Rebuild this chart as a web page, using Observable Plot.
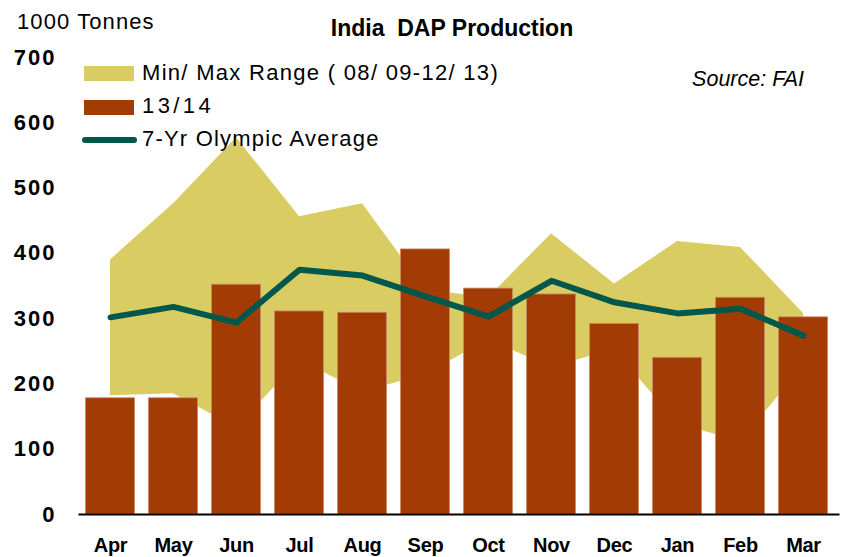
<!DOCTYPE html>
<html>
<head>
<meta charset="utf-8">
<script src="https://cdn.jsdelivr.net/npm/d3@7"></script>
<script src="https://cdn.jsdelivr.net/npm/@observablehq/plot@0.6"></script>
<style>
  html, body { margin: 0; padding: 0; background: #fff; }
  #wrap { position: relative; width: 844px; height: 557px; font-family: "Liberation Sans", Arial, sans-serif; color: #000; overflow: hidden; }
  .abs { position: absolute; white-space: pre; line-height: 1; }
  #unit { left: 17px; top: 10.5px; font-size: 22px; letter-spacing: 1.1px; }
  #title { left: 452px; top: 16.5px; transform: translateX(-50%); font-size: 23px; font-weight: bold; }
  #source { right: 40px; top: 68.8px; font-size: 21.5px; font-style: italic; }
  .lg { font-size: 22px; }
  .sw { position: absolute; }
  svg [aria-label="y-axis tick label"] text { letter-spacing: 2px; }
  svg [aria-label="x-axis tick label"] text { letter-spacing: -0.3px; }
</style>
</head>
<body>
<div id="wrap">
  <div id="chart"></div>
  <div class="abs" id="unit">1000 Tonnes</div>
  <div class="abs" id="title">India  DAP Production</div>
  <div class="abs" id="source">Source: FAI</div>
  <div class="sw" style="left:84px;top:66px;width:50px;height:15px;background:#D9CC62"></div>
  <div class="abs lg" style="left:142px;top:62.4px;letter-spacing:1.3px">Min/ Max Range ( 08/ 09-12/ 13)</div>
  <div class="sw" style="left:84px;top:100px;width:50px;height:15px;background:#A33B05"></div>
  <div class="abs lg" style="left:142px;top:95.4px;letter-spacing:3.4px">13/14</div>
  <div class="sw" style="left:82px;top:136.5px;width:55px;height:6px;border-radius:3px;background:#00574B"></div>
  <div class="abs lg" style="left:142px;top:128.4px;letter-spacing:1.2px">7-Yr Olympic Average</div>
</div>
<script>
const months = ["Apr","May","Jun","Jul","Aug","Sep","Oct","Nov","Dec","Jan","Feb","Mar"];
const rangeMin = [182, 185, 133, 236, 188, 214, 268, 225, 253, 139, 112, 227];
const rangeMax = [390, 476, 577, 456, 476, 344, 332, 430, 353, 418, 409, 308];
const production = [178, 178, 352, 311, 309, 406, 346, 337, 292, 240, 332, 302];
const olympicAvg = [302, 318, 294, 375, 366, 334, 303, 358, 325, 308, 315, 274];
const yTicks = [0, 100, 200, 300, 400, 500, 600, 700];

const idx = d3.range(months.length);
const rows = idx.map(i => ({i, month: months[i], min: rangeMin[i], max: rangeMax[i], val: production[i], avg: olympicAvg[i]}));

const chart = Plot.plot({
  width: 844,
  height: 557,
  marginLeft: 78.5,
  marginRight: 9.5,
  marginTop: 57,
  marginBottom: 43,
  x: {type: "linear", domain: [-0.5, 11.5]},
  y: {domain: [0, 700]},
  style: {fontFamily: '"Liberation Sans", Arial, sans-serif', background: "transparent", color: "#000", overflow: "visible"},
  marks: [
    Plot.areaY(rows, {x: "i", y1: "min", y2: "max", fill: "#D9CC62"}),
    Plot.rectY(rows, {x1: d => d.i - 0.5, x2: d => d.i + 0.5, y1: 0, y2: "val", insetLeft: 7, insetRight: 7, fill: "#A33B05", stroke: "#C98A66", strokeWidth: 0.8}),
    Plot.ruleY([0], {stroke: "#000", strokeWidth: 2, insetRight: -5}),
    Plot.lineY(rows, {x: "i", y: "avg", stroke: "#00574B", strokeWidth: 6, strokeLinecap: "round", strokeLinejoin: "round"}),
    Plot.axisY({ticks: yTicks, tickSize: 0, tickPadding: 22.5, fontSize: 22, fontWeight: "bold", label: null}),
    Plot.axisX({ticks: idx, tickSize: 0, tickPadding: 23, tickFormat: i => months[i], fontSize: 20, fontWeight: "bold", label: null})
  ]
});
document.getElementById("chart").appendChild(chart);
</script>
</body>
</html>
